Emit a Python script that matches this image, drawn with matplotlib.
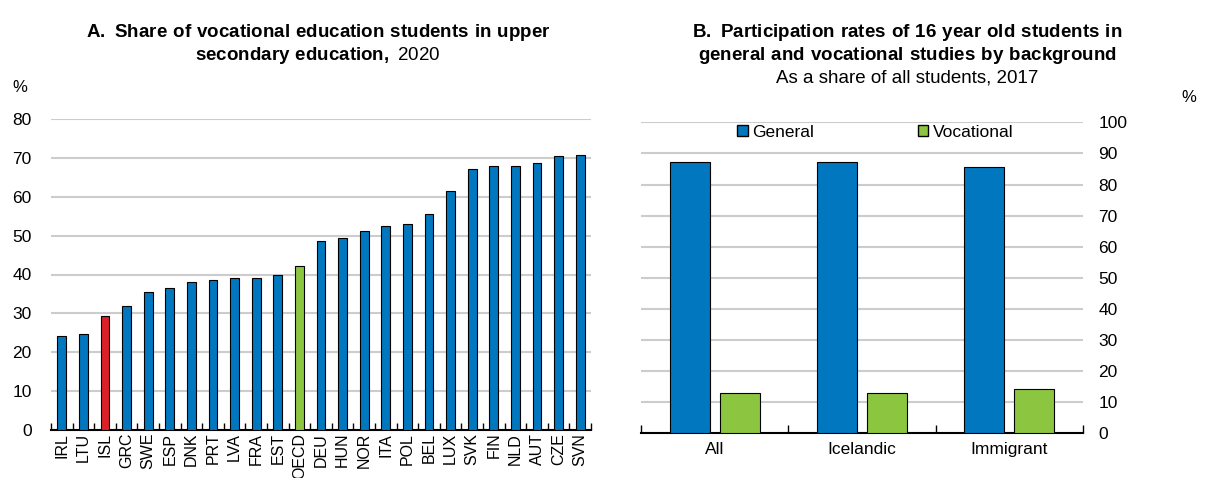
import matplotlib.pyplot as plt
from matplotlib.patches import Patch
from matplotlib.ticker import FixedLocator

fam = 'Liberation Sans'
plt.rcParams['font.family'] = [fam, 'DejaVu Sans']
plt.rcParams['mathtext.fontset'] = 'custom'
plt.rcParams['mathtext.rm'] = fam
plt.rcParams['mathtext.bf'] = fam + ':bold'

# Panel A data
countries = ['IRL', 'LTU', 'ISL', 'GRC', 'SWE', 'ESP', 'DNK', 'PRT', 'LVA', 'FRA', 'EST', 'OECD',
             'DEU', 'HUN', 'NOR', 'ITA', 'POL', 'BEL', 'LUX', 'SVK', 'FIN', 'NLD', 'AUT', 'CZE', 'SVN']
share = [24.1, 24.7, 29.3, 31.8, 35.6, 36.4, 38.0, 38.6, 39.2, 39.2, 39.8, 42.2,
         48.6, 49.5, 51.2, 52.4, 53.0, 55.6, 61.5, 67.2, 67.8, 68.0, 68.6, 70.4, 70.8]

# Panel B data
groups = ['All', 'Icelandic', 'Immigrant']
general = [87.1, 87.1, 85.7]
vocational = [13.0, 13.0, 14.1]

blue = '#0077BE'
green = '#8CC641'
red = '#DA2128'
grid_c = '#CCCCCC'

W, H = 1221, 478
fig = plt.figure(figsize=(W / 100, H / 100), dpi=100)

def ax_px(x0, x1, ytop, ybot):
    return fig.add_axes([x0 / W, 1 - ybot / H, (x1 - x0) / W, (ybot - ytop) / H])

def ftext(xp, yp, s, **kw):
    return fig.text(xp / W, 1 - yp / H, s, **kw)

# ---- Panel A ----
ax1 = ax_px(51, 591, 119, 430)
cols = [red if c == 'ISL' else green if c == 'OECD' else blue for c in countries]
x = range(len(countries))
ax1.bar(x, share, width=0.4, color=cols, edgecolor='black', linewidth=0.8, zorder=3)
ax1.set_xlim(-0.5, len(countries) - 0.5)
ax1.set_ylim(0, 80)
ax1.set_yticks(range(0, 81, 10))
ax1.grid(axis='y', color=grid_c, linewidth=1.5, zorder=0)
ax1.set_xticks(list(x))
ax1.set_xticklabels(countries, rotation=90, fontsize=11.5)
ax1.tick_params(axis='x', length=0, pad=2)
ax1.xaxis.set_minor_locator(FixedLocator([i - 0.5 for i in range(len(countries) + 1)]))
ax1.tick_params(axis='x', which='minor', direction='in', length=5, width=1)
ax1.tick_params(axis='y', length=0, labelsize=12.5, pad=14)
for s in ['top', 'right', 'left']:
    ax1.spines[s].set_visible(False)
ax1.spines['bottom'].set_linewidth(1.5)
ftext(318, 37, r'$\bf{A.\ Share\ of\ vocational\ education\ students\ in\ upper}$',
      fontsize=13.5, ha='center', va='baseline')
ftext(318, 60, r'$\bf{secondary\ education,}$ 2020', fontsize=13.5, ha='center', va='baseline')
ftext(20, 87, '%', fontsize=12, ha='center', va='center')

# ---- Panel B ----
ax2 = ax_px(641, 1083, 122.3, 433.3)
xb = range(len(groups))
ax2.bar([i - 0.17 for i in xb], general, width=0.27, color=blue, edgecolor='black', linewidth=0.8, zorder=3)
ax2.bar([i + 0.17 for i in xb], vocational, width=0.27, color=green, edgecolor='black', linewidth=0.8, zorder=3)
ax2.set_xlim(-0.5, len(groups) - 0.5)
ax2.set_ylim(0, 100)
ax2.set_yticks(range(0, 101, 10))
ax2.yaxis.tick_right()
ax2.grid(axis='y', color=grid_c, linewidth=1.5, zorder=0)
ax2.set_xticks(list(xb))
ax2.set_xticklabels(groups, fontsize=12.5)
ax2.tick_params(axis='x', length=0, pad=6)
ax2.xaxis.set_minor_locator(FixedLocator([i - 0.5 for i in range(len(groups) + 1)]))
ax2.tick_params(axis='x', which='minor', direction='in', length=6, width=1)
ax2.tick_params(axis='y', length=0, labelsize=12.5, pad=11)
for s in ['top', 'right', 'left']:
    ax2.spines[s].set_visible(False)
ax2.spines['bottom'].set_linewidth(1.5)
handles = [Patch(facecolor=blue, edgecolor='black', label='General'),
           Patch(facecolor=green, edgecolor='black', label='Vocational')]
ax2.legend(handles=handles, loc='center', bbox_to_anchor=(0.53, 0.968), ncol=2, frameon=False,
           fontsize=12.5, handlelength=0.6, handleheight=0.6, handletextpad=0.25, columnspacing=6.0,
           borderaxespad=0)
ftext(907, 37, r'$\bf{B.\ Participation\ rates\ of\ 16\ year\ old\ students\ in}$',
      fontsize=13.5, ha='center', va='baseline')
ftext(907, 60, r'$\bf{general\ and\ vocational\ studies\ by\ background}$',
      fontsize=13.5, ha='center', va='baseline')
ftext(907, 82.5, 'As a share of all students, 2017', fontsize=13.5, ha='center', va='baseline')
ftext(1189, 98, '%', fontsize=12, ha='center', va='center')

fig.savefig('out.png', dpi=100)
